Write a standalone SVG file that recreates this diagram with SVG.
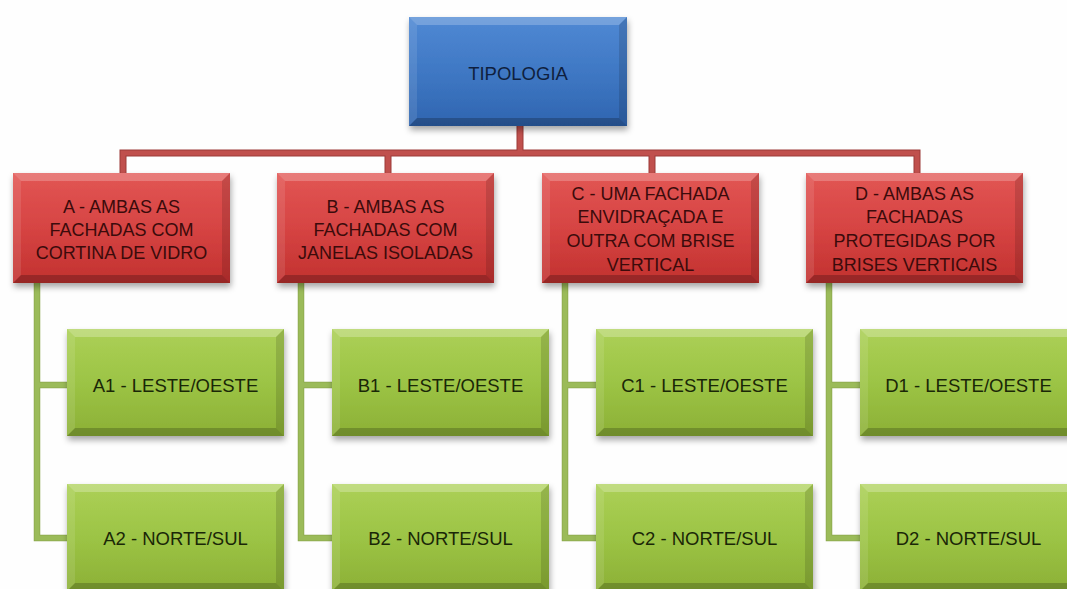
<svg xmlns="http://www.w3.org/2000/svg" width="1067" height="589" viewBox="0 0 1067 589">
<style>
.lbl{font-family:"Liberation Sans",Arial,sans-serif;font-size:18px;text-anchor:middle;dominant-baseline:central}
.lr{fill:#3b0b0b}
.lg{fill:#1a2707;font-size:18.5px}
.lb{fill:#0f1f3e;font-size:18.5px}
.cr{stroke:#c0504d;stroke-width:5;fill:none;stroke-linejoin:miter}
.cro{stroke:#9c3a38;stroke-width:7;fill:none}
.cg{stroke:#9bbb59;stroke-width:5;fill:none}
.cgo{stroke:#8aa64c;stroke-width:6.5;fill:none}
</style>
<defs>
<linearGradient id="gRed" x1="0" y1="0" x2="0" y2="1">
<stop offset="0" stop-color="#e25654"/><stop offset="0.5" stop-color="#d64443"/><stop offset="1" stop-color="#c2312f"/>
</linearGradient>
<linearGradient id="gBlue" x1="0" y1="0" x2="0" y2="1">
<stop offset="0" stop-color="#5089d4"/><stop offset="0.5" stop-color="#3f78c4"/><stop offset="1" stop-color="#2f65b0"/>
</linearGradient>
<linearGradient id="gGreen" x1="0" y1="0" x2="0" y2="1">
<stop offset="0" stop-color="#acd057"/><stop offset="0.5" stop-color="#9cc445"/><stop offset="1" stop-color="#8cb036"/>
</linearGradient>
<filter id="sh" x="-10%" y="-10%" width="125%" height="130%">
<feDropShadow dx="1" dy="4" stdDeviation="3" flood-color="#000" flood-opacity="0.35"/>
</filter>
<g id="bevRed">
<path d="M0,0H217L209,8H8Z" fill="#fff" fill-opacity="0.22"/>
<path d="M0,110H217L209,102H8Z" fill="#000" fill-opacity="0.22"/>
<path d="M0,0L8,8V102L0,110Z" fill="#fff" fill-opacity="0.1"/>
<path d="M217,0L209,8V102L217,110Z" fill="#000" fill-opacity="0.13"/>
</g>
<g id="bevBlue">
<path d="M0,0H218L210,8H8Z" fill="#fff" fill-opacity="0.22"/>
<path d="M0,109H218L210,101H8Z" fill="#000" fill-opacity="0.22"/>
<path d="M0,0L8,8V101L0,109Z" fill="#fff" fill-opacity="0.1"/>
<path d="M218,0L210,8V101L218,109Z" fill="#000" fill-opacity="0.13"/>
</g>
<g id="bevGreen">
<path d="M0,0H217L209,8H8Z" fill="#fff" fill-opacity="0.25"/>
<path d="M0,107H217L209,99H8Z" fill="#000" fill-opacity="0.2"/>
<path d="M0,0L8,8V99L0,107Z" fill="#fff" fill-opacity="0.1"/>
<path d="M217,0L209,8V99L217,107Z" fill="#000" fill-opacity="0.13"/>
</g>
</defs>
<rect width="1067" height="589" fill="#fefefe"/>

<g id="connectors">
<path class="cro" d="M520,126V153M123,173V153H917V173M388,153V173M652,153V173"/>
<path class="cr" d="M520,126V153M123,173V153H917V173M388,153V173M652,153V173"/>
<path class="cgo" d="M37,282V538H67M37,385H67M301,282V538H332M301,385H332M565,282V538H596M565,385H596M829,282V538H860M829,385H860"/>
<path class="cg" d="M37,282V538H67M37,385H67M301,282V538H332M301,385H332M565,282V538H596M565,385H596M829,282V538H860M829,385H860"/>
</g>

<g id="tipologia">
<rect x="409" y="17" width="218" height="109" fill="url(#gBlue)" filter="url(#sh)"/>
<use href="#bevBlue" transform="translate(409,17)"/>
<text class="lbl lb" x="518" y="73">TIPOLOGIA</text>
</g>

<g id="A">
<rect x="13" y="173" width="217" height="110" fill="url(#gRed)" filter="url(#sh)"/>
<use href="#bevRed" transform="translate(13,173)"/>
<text class="lbl lr" x="121.5" y="207">A - AMBAS AS</text>
<text class="lbl lr" x="121.5" y="230">FACHADAS COM</text>
<text class="lbl lr" x="121.5" y="253">CORTINA DE VIDRO</text>
</g>
<g id="B">
<rect x="277" y="173" width="217" height="110" fill="url(#gRed)" filter="url(#sh)"/>
<use href="#bevRed" transform="translate(277,173)"/>
<text class="lbl lr" x="385.5" y="207">B - AMBAS AS</text>
<text class="lbl lr" x="385.5" y="230">FACHADAS COM</text>
<text class="lbl lr" x="385.5" y="253">JANELAS ISOLADAS</text>
</g>
<g id="C">
<rect x="542" y="173" width="217" height="110" fill="url(#gRed)" filter="url(#sh)"/>
<use href="#bevRed" transform="translate(542,173)"/>
<text class="lbl lr" x="650.5" y="194">C - UMA FACHADA</text>
<text class="lbl lr" x="650.5" y="217">ENVIDRAÇADA E</text>
<text class="lbl lr" x="650.5" y="241">OUTRA COM BRISE</text>
<text class="lbl lr" x="650.5" y="265">VERTICAL</text>
</g>
<g id="D">
<rect x="806" y="173" width="217" height="110" fill="url(#gRed)" filter="url(#sh)"/>
<use href="#bevRed" transform="translate(806,173)"/>
<text class="lbl lr" x="914.5" y="194">D - AMBAS AS</text>
<text class="lbl lr" x="914.5" y="217">FACHADAS</text>
<text class="lbl lr" x="914.5" y="241">PROTEGIDAS POR</text>
<text class="lbl lr" x="914.5" y="265">BRISES VERTICAIS</text>
</g>

<g id="A1">
<rect x="67" y="329" width="217" height="107" fill="url(#gGreen)" filter="url(#sh)"/>
<use href="#bevGreen" transform="translate(67,329)"/>
<text class="lbl lg" x="175.5" y="385">A1 - LESTE/OESTE</text>
</g>
<g id="A2">
<rect x="67" y="484" width="217" height="107" fill="url(#gGreen)" filter="url(#sh)"/>
<use href="#bevGreen" transform="translate(67,484)"/>
<text class="lbl lg" x="175.5" y="538">A2 - NORTE/SUL</text>
</g>
<g id="B1">
<rect x="332" y="329" width="217" height="107" fill="url(#gGreen)" filter="url(#sh)"/>
<use href="#bevGreen" transform="translate(332,329)"/>
<text class="lbl lg" x="440.5" y="385">B1 - LESTE/OESTE</text>
</g>
<g id="B2">
<rect x="332" y="484" width="217" height="107" fill="url(#gGreen)" filter="url(#sh)"/>
<use href="#bevGreen" transform="translate(332,484)"/>
<text class="lbl lg" x="440.5" y="538">B2 - NORTE/SUL</text>
</g>
<g id="C1">
<rect x="596" y="329" width="217" height="107" fill="url(#gGreen)" filter="url(#sh)"/>
<use href="#bevGreen" transform="translate(596,329)"/>
<text class="lbl lg" x="704.5" y="385">C1 - LESTE/OESTE</text>
</g>
<g id="C2">
<rect x="596" y="484" width="217" height="107" fill="url(#gGreen)" filter="url(#sh)"/>
<use href="#bevGreen" transform="translate(596,484)"/>
<text class="lbl lg" x="704.5" y="538">C2 - NORTE/SUL</text>
</g>
<g id="D1">
<rect x="860" y="329" width="217" height="107" fill="url(#gGreen)" filter="url(#sh)"/>
<use href="#bevGreen" transform="translate(860,329)"/>
<text class="lbl lg" x="968.5" y="385">D1 - LESTE/OESTE</text>
</g>
<g id="D2">
<rect x="860" y="484" width="217" height="107" fill="url(#gGreen)" filter="url(#sh)"/>
<use href="#bevGreen" transform="translate(860,484)"/>
<text class="lbl lg" x="968.5" y="538">D2 - NORTE/SUL</text>
</g>
</svg>
